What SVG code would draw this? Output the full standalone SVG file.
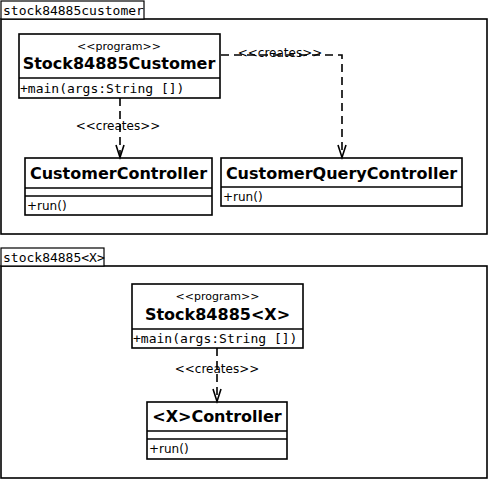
<svg xmlns="http://www.w3.org/2000/svg" width="489" height="480" viewBox="0 0 489 480">
<defs>
<style>
.box{fill:#fff;stroke:#000;stroke-width:1.6}
.tab{fill:#fff;stroke:#000;stroke-width:1.2}
.sep{stroke:#000;stroke-width:1.6}
.mono{font-family:"DejaVu Sans Mono","Liberation Mono",monospace;font-size:13px;fill:#000}
.stereo{font-family:"DejaVu Sans","Liberation Sans",sans-serif;font-size:11px;fill:#000;text-anchor:middle}
.lbl{font-family:"DejaVu Sans","Liberation Sans",sans-serif;font-size:12px;fill:#000;text-anchor:middle}
.title{font-family:"DejaVu Sans","Liberation Sans",sans-serif;font-size:16px;font-weight:bold;fill:#000;text-anchor:middle}
.op{font-family:"DejaVu Sans","Liberation Sans",sans-serif;font-size:12px;fill:#000}
.dep{fill:none;stroke:#000;stroke-width:1.6;stroke-dasharray:8,5}
.head{fill:none;stroke:#000;stroke-width:1.6}
</style>
</defs>
<rect width="489" height="480" fill="#fff"/>
<g id="pkg-customer">
<rect class="box" x="1" y="19" width="486" height="215"/>
<rect class="tab" x="1" y="1" width="143" height="18"/>
<text class="mono" x="3" y="15">stock84885customer</text>
</g>
<g id="pkg-x">
<rect class="box" x="1" y="266" width="486" height="212"/>
<rect class="tab" x="1" y="248" width="103" height="18"/>
<text class="mono" x="3" y="262">stock84885&lt;X&gt;</text>
</g>
<g id="node-stock84885customer">
<rect class="box" x="19" y="34" width="201" height="64"/>
<line class="sep" x1="19" y1="78" x2="220" y2="78"/>
<text class="stereo" x="119" y="50">&lt;&lt;program&gt;&gt;</text>
<text class="title" x="119" y="69">Stock84885Customer</text>
<text class="mono" x="20" y="93">+main(args:String [])</text>
</g>
<g id="node-customercontroller">
<rect class="box" x="25" y="158" width="187" height="57"/>
<line class="sep" x1="25" y1="188" x2="212" y2="188"/>
<line class="sep" x1="25" y1="196" x2="212" y2="196"/>
<text class="title" x="118.5" y="179">CustomerController</text>
<text class="op" x="27" y="210">+run()</text>
</g>
<g id="node-customerquerycontroller">
<rect class="box" x="221" y="158" width="241" height="48"/>
<line class="sep" x1="221" y1="187" x2="462" y2="187"/>
<text class="title" x="341.5" y="179">CustomerQueryController</text>
<text class="op" x="223" y="201">+run()</text>
</g>
<g id="node-stock84885x">
<rect class="box" x="132" y="284" width="171" height="64"/>
<line class="sep" x1="132" y1="329" x2="303" y2="329"/>
<text class="stereo" x="217.5" y="300">&lt;&lt;program&gt;&gt;</text>
<text class="title" x="217.5" y="320">Stock84885&lt;X&gt;</text>
<text class="mono" x="133" y="343">+main(args:String [])</text>
</g>
<g id="node-xcontroller">
<rect class="box" x="147" y="402" width="140" height="57"/>
<line class="sep" x1="147" y1="431" x2="287" y2="431"/>
<line class="sep" x1="147" y1="439" x2="287" y2="439"/>
<text class="title" x="217" y="422">&lt;X&gt;Controller</text>
<text class="op" x="149" y="453">+run()</text>
</g>
<g id="connectors">
<text class="lbl" x="118" y="130">&lt;&lt;creates&gt;&gt;</text>
<line class="dep" x1="120" y1="98" x2="120" y2="157"/>
<polyline class="head" points="116,145 120,157.5 124,145"/>
<text class="lbl" x="280" y="57">&lt;&lt;creates&gt;&gt;</text>
<polyline class="dep" points="221,55 342,55 342,157"/>
<polyline class="head" points="338,145 342,157.5 346,145"/>
<text class="lbl" x="217" y="373">&lt;&lt;creates&gt;&gt;</text>
<line class="dep" x1="217" y1="348" x2="217" y2="401"/>
<polyline class="head" points="213,389 217,401.5 221,389"/>
</g>
</svg>
